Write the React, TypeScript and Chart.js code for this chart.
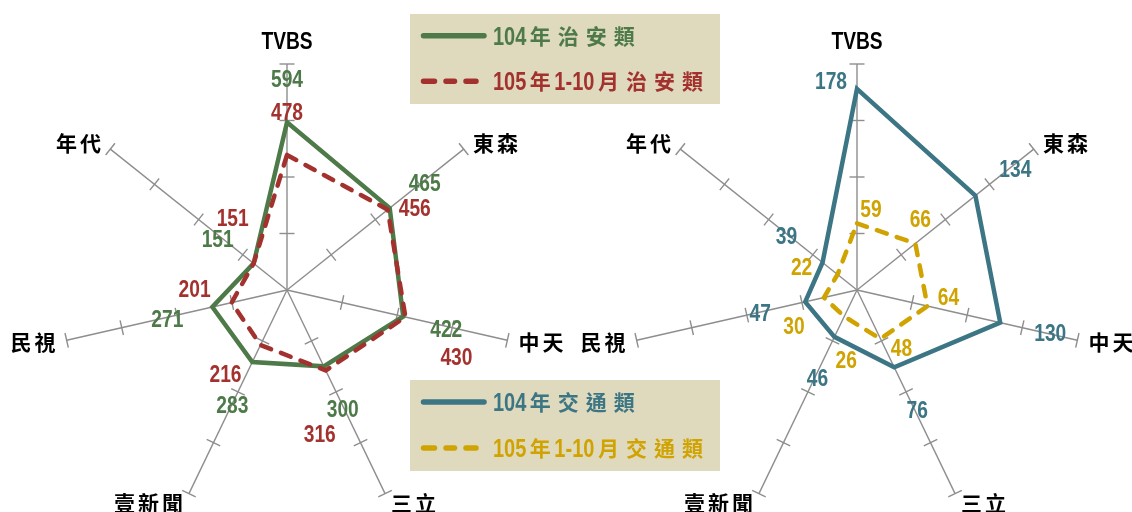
import React, { useEffect, useRef } from 'react';
import { Chart, registerables } from 'chart.js';

Chart.register(...registerables);

// ---------- data ----------
const categories = ['TVBS', '東森', '中天', '三立', '壹新聞', '民視', '年代'];
const crime104 = [594, 465, 422, 300, 283, 271, 151];
const crime105 = [478, 456, 430, 316, 216, 201, 151];
const traffic104 = [178, 134, 130, 76, 46, 47, 39];
const traffic105 = [59, 66, 64, 48, 26, 30, 22];
const crimeMax = 800;
const crimeStep = 200;
const trafficMax = 200;
const trafficStep = 50;
const crimeSeriesNames = ['104年治安類', '105年1-10月治安類'];
const trafficSeriesNames = ['104年交通類', '105年1-10月交通類'];

// ---------- style ----------
const GREEN = '#4d7a48';
const RED = '#a3322f';
const TEAL = '#3c7584';
const GOLD = '#d0a300';
const LEGEND_BG = '#dfdabd';
const AXIS = '#8e8e8e';
const LATIN = '"Liberation Sans", Arial, sans-serif';
const CJK = '"Noto Sans CJK TC", "Noto Sans CJK SC", sans-serif';
const NARROW = 0.8;

// value label offsets (px, relative to each point)
const OFF_CRIME_104 = [[0, -44], [35, -26], [43, 12], [19, 42], [-20, 42], [-45, 11], [-36, -25]];
const OFF_CRIME_105 = [[0, -44], [27, -2], [51, 39], [-6, 63], [-35, 28], [-37, -14], [-21, -46]];
const OFF_TRAFFIC_104 = [[-26, -8], [40, -27], [50, 10], [23, 42], [-17, 41], [-45, 11], [-36, -27]];
const OFF_TRAFFIC_105 = [[14, -15], [5, -25], [21, -10], [21, 9], [2, 43], [-30, 28], [-36, -8]];

const W = 1132;
const H = 530;
const RADIUS = 226;

function isCJK(ch: string) {
  return /[\u2e80-\u9fff\uf900-\ufaff\uff00-\uffef]/.test(ch);
}

function drawMixed(
  ctx: CanvasRenderingContext2D,
  text: string,
  x: number,
  yMid: number,
  align: 'left' | 'right' | 'center',
  color: string,
  latinSize: number,
  cjkSize: number,
  pitch: number
) {
  const runs: { t: string; cjk: boolean }[] = [];
  let buf = '';
  for (const ch of text) {
    if (isCJK(ch)) {
      if (buf) { runs.push({ t: buf, cjk: false }); buf = ''; }
      runs.push({ t: ch, cjk: true });
    } else buf += ch;
  }
  if (buf) runs.push({ t: buf, cjk: false });
  ctx.save();
  ctx.fillStyle = color;
  const latinFont = `bold ${latinSize}px ${LATIN}`;
  const cjkFont = `bold ${cjkSize}px ${CJK}`;
  const widths = runs.map((r) => {
    if (r.cjk) return pitch;
    ctx.font = latinFont;
    return ctx.measureText(r.t).width * NARROW;
  });
  const total = widths.reduce((a, b) => a + b, 0);
  let cx = align === 'left' ? x : align === 'right' ? x - total : x - total / 2;
  runs.forEach((r, k) => {
    if (r.cjk) {
      ctx.font = cjkFont;
      ctx.textAlign = 'center';
      ctx.textBaseline = 'middle';
      ctx.fillText(r.t, cx + pitch / 2, yMid);
    } else {
      ctx.font = latinFont;
      ctx.textAlign = 'left';
      ctx.textBaseline = 'alphabetic';
      ctx.save();
      ctx.translate(cx, yMid + 0.358 * latinSize);
      ctx.scale(NARROW, 1);
      ctx.fillText(r.t, 0, 0);
      ctx.restore();
    }
    cx += widths[k];
  });
  ctx.restore();
}

type LegendRow = { text: string; color: string; dashed: boolean; y: number };
type Spec = {
  id: string;
  offsets: number[][][];
  colors: string[];
  legendBox: [number, number, number, number];
  legendRows: LegendRow[];
};

function makeOverlay(spec: Spec) {
  return {
    id: 'overlay_' + spec.id,
    beforeDatasetsDraw(chart: any) {
      const scale = chart.scales.r;
      const ctx: CanvasRenderingContext2D = chart.ctx;
      ctx.save();
      ctx.strokeStyle = AXIS;
      ctx.lineWidth = 1.4;
      const n = chart.data.labels.length;
      for (let i = 0; i < n; i++) {
        const a = scale.getIndexAngle(i) - Math.PI / 2;
        const px = -Math.sin(a);
        const py = Math.cos(a);
        for (const t of scale.ticks) {
          if (t.value <= scale.min) continue;
          const p = scale.getPointPositionForValue(i, t.value);
          ctx.beginPath();
          ctx.moveTo(p.x - px * 7.5, p.y - py * 7.5);
          ctx.lineTo(p.x + px * 7.5, p.y + py * 7.5);
          ctx.stroke();
        }
      }
      ctx.restore();
    },
    afterDatasetsDraw(chart: any) {
      const scale = chart.scales.r;
      const ctx: CanvasRenderingContext2D = chart.ctx;
      // value labels
      chart.data.datasets.forEach((ds: any, d: number) => {
        const meta = chart.getDatasetMeta(d);
        meta.data.forEach((el: any, i: number) => {
          const off = spec.offsets[d][i];
          drawMixed(ctx, String(ds.data[i]), el.x + off[0], el.y + off[1], 'center', spec.colors[d], 24, 21, 24);
        });
      });
      // category labels
      const labels: string[] = chart.data.labels;
      labels.forEach((lab, i) => {
        const a = scale.getIndexAngle(i);
        const s = Math.sin(a);
        if (i === 0) {
          const p = scale.getPointPosition(i, scale.drawingArea + 15);
          drawMixed(ctx, lab, p.x, p.y - 0.358 * 24, 'center', '#000', 24, 21, 24);
        } else {
          const p = scale.getPointPosition(i, scale.drawingArea + 10);
          drawMixed(ctx, lab, p.x, p.y, s > 0 ? 'left' : 'right', '#000', 24, 21, 24);
        }
      });
      // legend
      const [bx, by, bw, bh] = spec.legendBox;
      ctx.save();
      ctx.fillStyle = LEGEND_BG;
      ctx.fillRect(bx, by, bw, bh);
      spec.legendRows.forEach((row) => {
        ctx.strokeStyle = row.color;
        ctx.lineWidth = 5.5;
        ctx.lineCap = 'round';
        ctx.beginPath();
        if (row.dashed) {
          const segs = [[423.5, 434.5], [446, 454.5], [466, 476]];
          segs.forEach(([a, b]) => { ctx.moveTo(a, row.y); ctx.lineTo(b, row.y); });
        } else {
          ctx.moveTo(423.5, row.y);
          ctx.lineTo(484, row.y);
        }
        ctx.stroke();
        drawMixed(ctx, row.text, 493, row.y, 'left', row.color, 25, 21, 28);
      });
      ctx.restore();
    },
  };
}

function makeConfig(
  values: number[][],
  colors: string[],
  max: number,
  step: number,
  centerX: number,
  spec: Spec
): any {
  const centerY = 290;
  return {
    type: 'radar',
    data: {
      labels: categories,
      datasets: values.map((v, k) => ({
        label: spec.legendRows[k].text,
        data: v,
        borderColor: colors[k],
        backgroundColor: colors[k],
        borderWidth: 4.5,
        borderDash: k === 1 ? [10.5, 10.5] : [],
        borderCapStyle: k === 1 ? 'round' : 'butt',
        borderJoinStyle: 'miter',
        fill: false,
        pointRadius: 0,
        pointHoverRadius: 0,
        order: k === 1 ? 0 : 1,
      })),
    },
    options: {
      responsive: false,
      animation: false,
      events: [],
      layout: {
        padding: {
          left: centerX - RADIUS,
          right: W - centerX - RADIUS,
          top: centerY - RADIUS,
          bottom: H - centerY - RADIUS,
        },
      },
      plugins: { legend: { display: false }, tooltip: { enabled: false } },
      elements: { line: { tension: 0 }, point: { radius: 0 } },
      scales: {
        r: {
          min: 0,
          max,
          ticks: { display: false, stepSize: step },
          grid: { display: false },
          angleLines: { display: true, color: AXIS, lineWidth: 1.4 },
          pointLabels: { display: false },
        },
      },
    },
    plugins: [makeOverlay(spec)],
  };
}

export default function App() {
  const leftRef = useRef<HTMLCanvasElement>(null);
  const rightRef = useRef<HTMLCanvasElement>(null);

  useEffect(() => {
    const crimeSpec: Spec = {
      id: 'crime',
      offsets: [OFF_CRIME_104, OFF_CRIME_105],
      colors: [GREEN, RED],
      legendBox: [410, 14, 310, 90],
      legendRows: [
        { text: crimeSeriesNames[0], color: GREEN, dashed: false, y: 35.7 },
        { text: crimeSeriesNames[1], color: RED, dashed: true, y: 81.3 },
      ],
    };
    const trafficSpec: Spec = {
      id: 'traffic',
      offsets: [OFF_TRAFFIC_104, OFF_TRAFFIC_105],
      colors: [TEAL, GOLD],
      legendBox: [410, 380, 310, 91],
      legendRows: [
        { text: trafficSeriesNames[0], color: TEAL, dashed: false, y: 402 },
        { text: trafficSeriesNames[1], color: GOLD, dashed: true, y: 448 },
      ],
    };
    const c1 = new Chart(
      leftRef.current as HTMLCanvasElement,
      makeConfig([crime104, crime105], [GREEN, RED], crimeMax, crimeStep, 287, crimeSpec)
    );
    const c2 = new Chart(
      rightRef.current as HTMLCanvasElement,
      makeConfig([traffic104, traffic105], [TEAL, GOLD], trafficMax, trafficStep, 857, trafficSpec)
    );
    return () => {
      c1.destroy();
      c2.destroy();
    };
  }, []);

  return (
    <div
      style={{
        position: 'absolute',
        left: 0,
        top: 0,
        width: W,
        height: 512,
        overflow: 'hidden',
        background: '#ffffff',
      }}
    >
      <canvas ref={leftRef} width={W} height={H} style={{ position: 'absolute', left: 0, top: 0 }} />
      <canvas ref={rightRef} width={W} height={H} style={{ position: 'absolute', left: 0, top: 0 }} />
    </div>
  );
}
